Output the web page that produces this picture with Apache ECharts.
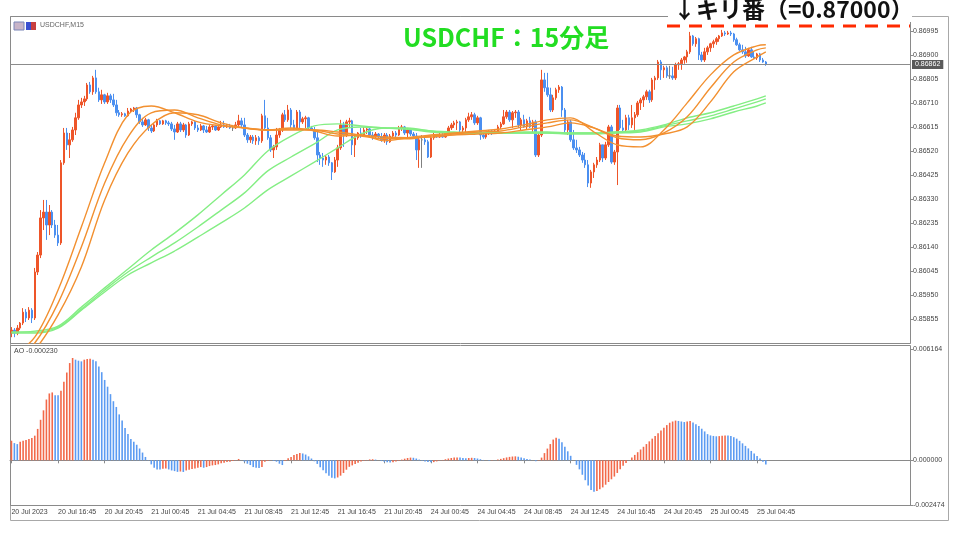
<!DOCTYPE html>
<html><head><meta charset="utf-8">
<script src="https://cdn.jsdelivr.net/npm/echarts@6/dist/echarts.min.js"></script>
<style>html,body{margin:0;padding:0;background:#fff}#c{width:960px;height:540px}</style>
</head><body><div id="c"></div>
<script>
// ---- data (prices in points, 1 point = 0.00001) ----
const PT = 1e-5;
const tickLabels = ["20 Jul 2023","20 Jul 16:45","20 Jul 20:45","21 Jul 00:45","21 Jul 04:45","21 Jul 08:45","21 Jul 12:45","21 Jul 16:45","21 Jul 20:45","24 Jul 00:45","24 Jul 04:45","24 Jul 08:45","24 Jul 12:45","24 Jul 16:45","24 Jul 20:45","25 Jul 00:45","25 Jul 04:45"];
const firstOpen = 85799;
const closes = [
85811,85799,85819,85839,85882,85859,85890,85859,86041,86108,
86255,86278,86227,86278,86227,86187,86156,86473,86591,86544,
86564,86603,86651,86702,86714,86726,86781,86754,86809,86754,
86722,86742,86714,86738,86722,86702,86671,86663,86667,86659,
86678,86686,86690,86663,86635,86623,86643,86611,86599,86623,
86639,86627,86639,86631,86627,86607,86595,86627,86603,86623,
86583,86627,86635,86611,86603,86619,86603,86595,86615,86619,
86603,86615,86623,86615,86619,86611,86611,86623,86639,86623,
86583,86564,86575,86560,86572,86560,86659,86611,86572,86524,
86536,86583,86603,86663,86643,86682,86623,86611,86674,86635,
86647,86651,86611,86603,86572,86504,86492,86484,86496,86473,
86437,86484,86532,86623,86583,86635,86639,86544,86572,86591,
86579,86603,86607,86583,86575,86587,86575,86564,86583,86556,
86579,86591,86583,86611,86615,86591,86603,86587,86579,86524,
86564,86564,86556,86496,86572,86583,86575,86583,86575,86591,
86611,86623,86631,86635,86603,86611,86643,86655,86663,86631,
86651,86583,86575,86591,86599,86591,86599,86615,86627,86655,
86674,86643,86671,86674,86623,86643,86615,86639,86615,86635,
86504,86583,86801,86770,86742,86682,86730,86762,86773,86682,
86603,86635,86564,86532,86524,86504,86484,86465,86393,86437,
86465,86484,86544,86492,86544,86615,86476,86516,86690,86611,
86603,86651,86623,86651,86663,86710,86722,86734,86754,86722,
86801,86809,86872,86841,86849,86817,86817,86809,86861,86865,
86880,86892,86912,86975,86944,86964,86900,86880,86912,86928,
86944,86952,86964,86975,86987,86983,86987,86983,86960,86940,
86920,86912,86896,86920,86892,86888,86904,86880,86872,86862];
const highs = [
85823,85819,85831,85843,85898,85894,85902,85898,86057,86120,
86286,86326,86326,86306,86286,86247,86227,86484,86611,86611,
86591,86615,86671,86722,86730,86738,86789,86793,86817,86841,
86770,86762,86746,86750,86746,86746,86722,86682,86674,86671,
86690,86690,86694,86694,86667,86651,86651,86647,86623,86631,
86647,86643,86643,86643,86639,86635,86623,86635,86635,86631,
86627,86635,86639,86639,86623,86627,86623,86619,86623,86623,
86623,86623,86639,86639,86627,86627,86623,86635,86663,86651,
86651,86591,86583,86583,86583,86579,86667,86722,86651,86583,
86544,86611,86611,86671,86682,86702,86690,86643,86682,86682,
86655,86659,86655,86619,86615,86595,86516,86512,86504,86504,
86476,86496,86544,86643,86635,86643,86651,86643,86583,86595,
86611,86615,86615,86611,86595,86595,86591,86591,86591,86591,
86587,86599,86599,86619,86623,86619,86611,86611,86595,86591,
86572,86583,86572,86564,86579,86591,86587,86591,86591,86599,
86619,86631,86639,86643,86639,86619,86651,86671,86674,86671,
86659,86655,86591,86595,86603,86603,86607,86623,86635,86682,
86682,86682,86678,86682,86682,86651,86663,86647,86655,86643,
86643,86591,86841,86829,86829,86770,86742,86770,86781,86777,
86690,86643,86643,86603,86564,86536,86516,86512,86484,86445,
86473,86496,86552,86544,86556,86623,86623,86524,86702,86702,
86643,86663,86663,86702,86674,86718,86730,86742,86762,86762,
86809,86817,86880,86880,86857,86857,86857,86853,86869,86872,
86888,86896,86920,86991,86979,86971,86968,86912,86928,86936,
86948,86960,86971,86979,86999,86995,86995,86995,86987,86968,
86948,86940,86932,86928,86932,86912,86908,86908,86888,86876];
const lows = [
85783,85783,85791,85811,85831,85843,85851,85839,85851,86029,
86096,86207,86168,86187,86215,86176,86144,86148,86465,86524,
86492,86556,86583,86643,86690,86698,86718,86746,86742,86746,
86714,86706,86706,86706,86710,86694,86659,86655,86655,86655,
86655,86671,86674,86651,86627,86615,86619,86599,86591,86595,
86615,86623,86623,86623,86619,86599,86564,86591,86595,86595,
86572,86579,86619,86603,86595,86599,86591,86591,86591,86603,
86599,86599,86611,86611,86611,86607,86599,86607,86615,86615,
86575,86552,86552,86548,86544,86544,86552,86603,86564,86516,
86492,86524,86572,86595,86635,86635,86611,86603,86603,86611,
86627,86611,86603,86599,86564,86476,86465,86457,86465,86461,
86405,86433,86457,86524,86536,86575,86615,86504,86496,86564,
86572,86575,86587,86575,86564,86572,86568,86556,86552,86544,
86552,86572,86575,86579,86599,86583,86575,86579,86568,86484,
86453,86453,86544,86492,86492,86564,86572,86572,86572,86572,
86587,86603,86611,86603,86591,86583,86595,86635,86643,86623,
86623,86564,86568,86568,86583,86583,86587,86595,86607,86623,
86647,86635,86611,86651,86611,86603,86611,86603,86611,86591,
86496,86496,86575,86754,86734,86674,86674,86722,86750,86655,
86591,86583,86556,86524,86512,86496,86473,86453,86377,86374,
86413,86453,86476,86476,86484,86536,86469,86465,86385,86603,
86591,86595,86603,86611,86603,86655,86682,86694,86722,86710,
86714,86762,86801,86801,86809,86809,86805,86801,86801,86841,
86841,86865,86869,86904,86936,86932,86880,86872,86872,86900,
86912,86928,86940,86952,86971,86975,86979,86975,86952,86936,
86916,86904,86888,86892,86888,86884,86880,86872,86869,86857];

// moving averages sampled every 8 bars (points)
const maIndex = [0,8,16,24,32,40,48,56,64,72,80,88,96,104,112,120,128,136,144,152,160,168,176,184,192,200,208,216,224,232,240,248,256,259];
const maOrange1 = [85708,85783,85970,86219,86473,86663,86698,86671,86635,86619,86611,86603,86611,86599,86579,86583,86560,86572,86583,86591,86599,86607,86623,86643,86651,86595,86544,86536,86603,86710,86821,86900,86936,86940];
const maOrange2 = [85673,85760,85918,86140,86393,86575,86671,86682,86651,86623,86611,86603,86607,86603,86587,86579,86568,86568,86579,86587,86595,86599,86615,86631,86643,86611,86572,86564,86591,86655,86770,86872,86920,86928];
const maOrange3 = [85645,85732,85871,86061,86326,86512,86623,86671,86663,86631,86611,86603,86603,86603,86595,86583,86575,86572,86575,86583,86587,86591,86603,86615,86631,86611,86579,86575,86587,86615,86714,86833,86892,86912];
const maGreen1 = [85803,85807,85827,85902,85978,86053,86128,86195,86267,86346,86425,86520,86579,86619,86627,86619,86611,86607,86599,86595,86591,86591,86595,86595,86591,86591,86595,86603,86623,86651,86671,86698,86726,86738];
const maGreen2 = [85803,85803,85823,85894,85970,86041,86100,86156,86219,86286,86354,86441,86496,86548,86603,86615,86611,86607,86595,86591,86591,86591,86591,86591,86591,86591,86595,86599,86619,86639,86659,86686,86714,86726];
const maGreen3 = [85799,85799,85819,85890,85962,86029,86077,86124,86179,86235,86294,86366,86421,86476,86532,86587,86611,86611,86599,86591,86591,86591,86591,86591,86587,86587,86591,86595,86615,86627,86647,86674,86698,86710];

// Awesome Oscillator (units of 1e-6)
const aoValues = [
1085,954,898,1029,1085,1122,1178,1234,1365,1739,
2244,2768,3366,3703,3759,3609,3600,3852,4357,4862,
5386,5666,5573,5517,5479,5573,5610,5629,5573,5479,
5199,4881,4451,4077,3665,3273,2955,2543,2207,1795,
1459,1178,1029,860,655,430,187,19,-224,-411,
-505,-510,-468,-449,-505,-561,-598,-640,-620,-645,
-561,-524,-486,-449,-411,-374,-411,-374,-318,-281,
-262,-224,-168,-131,-94,-75,-37,-15,75,5,
-75,-187,-262,-374,-411,-420,-374,-75,-37,-5,
-37,-75,-187,-262,-37,112,187,299,350,400,
380,320,220,100,-50,-200,-380,-550,-720,-860,
-960,-1000,-950,-850,-700,-520,-360,-280,-200,-130,
-70,-20,20,50,60,40,0,-40,-80,-110,
-120,-100,-60,-20,40,90,130,150,140,100,
40,-20,-60,-90,-110,-100,-60,-20,20,60,
100,130,150,160,150,130,120,130,140,130,
100,60,20,0,-20,-10,10,40,80,120,
160,190,210,220,200,160,120,80,40,10,
-50,-20,150,400,650,900,1150,1250,1200,1000,
750,500,250,0,-250,-500,-800,-1100,-1400,-1650,
-1740,-1700,-1600,-1500,-1350,-1200,-1050,-900,-700,-500,
-300,-150,0,150,300,450,600,750,900,1050,
1200,1350,1500,1650,1800,1950,2080,2150,2200,2180,
2150,2120,2150,2180,2100,2000,1900,1750,1600,1450,
1380,1350,1330,1340,1360,1380,1370,1340,1280,1200,
1080,940,800,660,520,380,240,100,-80,-230];

const priceTicks = [0.85855,0.85950,0.86045,0.86140,0.86235,0.86330,0.86425,0.86520,0.86615,0.86710,0.86805,0.86900,0.86995];
const aoTicks = [-0.002474, 0, 0.006164];
const priceMin = 0.85760, priceMax = 0.87050;
const aoMin = -0.002474, aoMax = 0.006164;
const lastPrice = 0.86862;
const nSlots = 309;

// ---- build ----
const cats = Array.from({length:nSlots}, (_, i) => String(i));
const candles = closes.map((c, i) => {
  const o = i === 0 ? firstOpen : closes[i-1];
  const h = Math.max(highs[i], o, c), l = Math.min(lows[i], o, c);
  return [o*PT, c*PT, l*PT, h*PT].map(v => +v.toFixed(5));
});
const maSeries = (arr) => maIndex.map((ix, k) => [ix, +(arr[k]*PT).toFixed(5)]);
const aoData = aoValues.map((v, i) => ({
  value: v*1e-6,
  itemStyle: { color: (i === 0 || v >= aoValues[i-1]) ? '#f2694a' : '#5b9bf2' }
}));
const FONT = 'Liberation Sans';
const tickShow = (idx) => idx % 16 === 0 && idx <= 256;

const chart = echarts.init(document.getElementById('c'));
const lineCommon = (data, color) => ({
  type: 'line', xAxisIndex: 0, yAxisIndex: 0, data, smooth: 0.35, showSymbol: false,
  lineStyle: { color, width: 1.4 }, z: 5, silent: true
});
const priceLineSeries = {
  type: 'line', xAxisIndex: 0, yAxisIndex: 0, data: [], showSymbol: false, z: 2, silent: true,
  markLine: { silent: true, symbol: 'none', animation: false, precision: 5, data: [{ yAxis: lastPrice }],
    lineStyle: { color: '#8c8c8c', width: 1, type: 'solid' },
    label: { show: true, position: 'end', formatter: lastPrice.toFixed(5), backgroundColor: '#5a5a5a', color: '#fff',
      fontSize: 7, fontFamily: FONT, padding: [1, 3, 1, 3], distance: 2 } }
};
chart.setOption({
  animation: false,
  backgroundColor: '#ffffff',
  grid: [
    { left: 10, top: 17, width: 900, height: 326 },
    { left: 10, top: 349, width: 900, height: 156 }
  ],
  xAxis: [
    { type: 'category', gridIndex: 0, data: cats, show: false },
    { type: 'category', gridIndex: 1, data: cats,
      axisLine: { show: true, lineStyle: { color: '#8a8a8a' } },
      axisTick: { show: true, alignWithLabel: true, length: 3, interval: tickShow, lineStyle: { color: '#8a8a8a' } },
      axisLabel: { interval: tickShow, align: 'left', fontSize: 7, fontFamily: FONT, color: '#444', margin: 4,
        formatter: (v) => tickLabels[Number(v) / 16] || '' },
      splitLine: { show: false } }
  ],
  yAxis: [
    { type: 'value', gridIndex: 0, position: 'right', min: priceMin, max: priceMax,
      axisLine: { show: true, lineStyle: { color: '#8a8a8a' } },
      axisTick: { show: true, length: 3, customValues: priceTicks, lineStyle: { color: '#8a8a8a' } },
      axisLabel: { customValues: priceTicks, formatter: (v) => v.toFixed(5), fontSize: 7, fontFamily: FONT, color: '#444', margin: 3 },
      splitLine: { show: false } },
    { type: 'value', gridIndex: 1, position: 'right', min: aoMin, max: aoMax,
      axisLine: { show: true, lineStyle: { color: '#8a8a8a' } },
      axisTick: { show: true, length: 3, customValues: aoTicks, lineStyle: { color: '#8a8a8a' } },
      axisLabel: { customValues: aoTicks, formatter: (v) => v.toFixed(6), fontSize: 7, fontFamily: FONT, color: '#444', margin: 3 },
      splitLine: { show: false } }
  ],
  series: [
    priceLineSeries,
    { type: 'candlestick', xAxisIndex: 0, yAxisIndex: 0, data: candles, barWidth: 2, z: 3,
      itemStyle: { color: '#ee5529', color0: '#4b8ff0', borderColor: '#ee5529', borderColor0: '#4b8ff0', borderColorDoji: '#808080', borderWidth: 1 } },
    lineCommon(maSeries(maGreen3), '#84ee84'),
    lineCommon(maSeries(maGreen2), '#84ee84'),
    lineCommon(maSeries(maGreen1), '#84ee84'),
    lineCommon(maSeries(maOrange3), '#f29030'),
    lineCommon(maSeries(maOrange2), '#f29030'),
    lineCommon(maSeries(maOrange1), '#f29030'),
    { type: 'bar', xAxisIndex: 1, yAxisIndex: 1, data: aoData, barWidth: 1.6, silent: true }
  ],
  graphic: [
    { type: 'rect', z: 1, silent: true, shape: { x: 10.5, y: 16.5, width: 938, height: 504 }, style: { fill: 'none', stroke: '#a8a8a8', lineWidth: 1 } },
    { type: 'rect', z: 1, silent: true, shape: { x: 10.5, y: 16.5, width: 900, height: 327 }, style: { fill: 'none', stroke: '#8a8a8a', lineWidth: 1 } },
    { type: 'rect', z: 1, silent: true, shape: { x: 10.5, y: 345.5, width: 900, height: 160 }, style: { fill: 'none', stroke: '#8a8a8a', lineWidth: 1 } },
    { type: 'rect', z: 20, silent: true, shape: { x: 14, y: 22, width: 10, height: 8 }, style: { fill: '#c8b4c8', stroke: '#7a86b8', lineWidth: 1 } },
    { type: 'rect', z: 20, silent: true, shape: { x: 26, y: 22, width: 5, height: 8 }, style: { fill: '#3a4fd0' } },
    { type: 'rect', z: 20, silent: true, shape: { x: 31, y: 22, width: 5, height: 8 }, style: { fill: '#c84040' } },
    { type: 'text', z: 20, silent: true, left: 40, top: 22, style: { text: 'USDCHF,M15', fontSize: 7, fontFamily: FONT, fill: '#666' } },
    { type: 'text', z: 20, silent: true, left: 14, top: 348, style: { text: 'AO -0.000230', fontSize: 7, fontFamily: FONT, fill: '#444' } },
    { type: 'text', z: 20, silent: true, left: 403, top: 25, style: { text: 'USDCHF：15分足', fontSize: 25, fontWeight: 'bold', fontFamily: 'Noto Sans CJK JP', fill: '#22dd22' } },
    { type: 'rect', z: 19, silent: true, shape: { x: 668, y: 0, width: 244, height: 22 }, style: { fill: '#ffffff' } },
    { type: 'text', z: 20, silent: true, left: 673, top: -2, style: { text: '↓キリ番（=0.87000）', fontSize: 23, fontWeight: 'bold', fontFamily: 'Noto Sans CJK JP', fill: '#111' } },
    { type: 'line', z: 20, silent: true, shape: { x1: 667, y1: 26, x2: 910, y2: 26 }, style: { stroke: '#ff2a00', lineWidth: 3, lineDash: [13, 9] } }
  ]
});
</script>
</body></html>
